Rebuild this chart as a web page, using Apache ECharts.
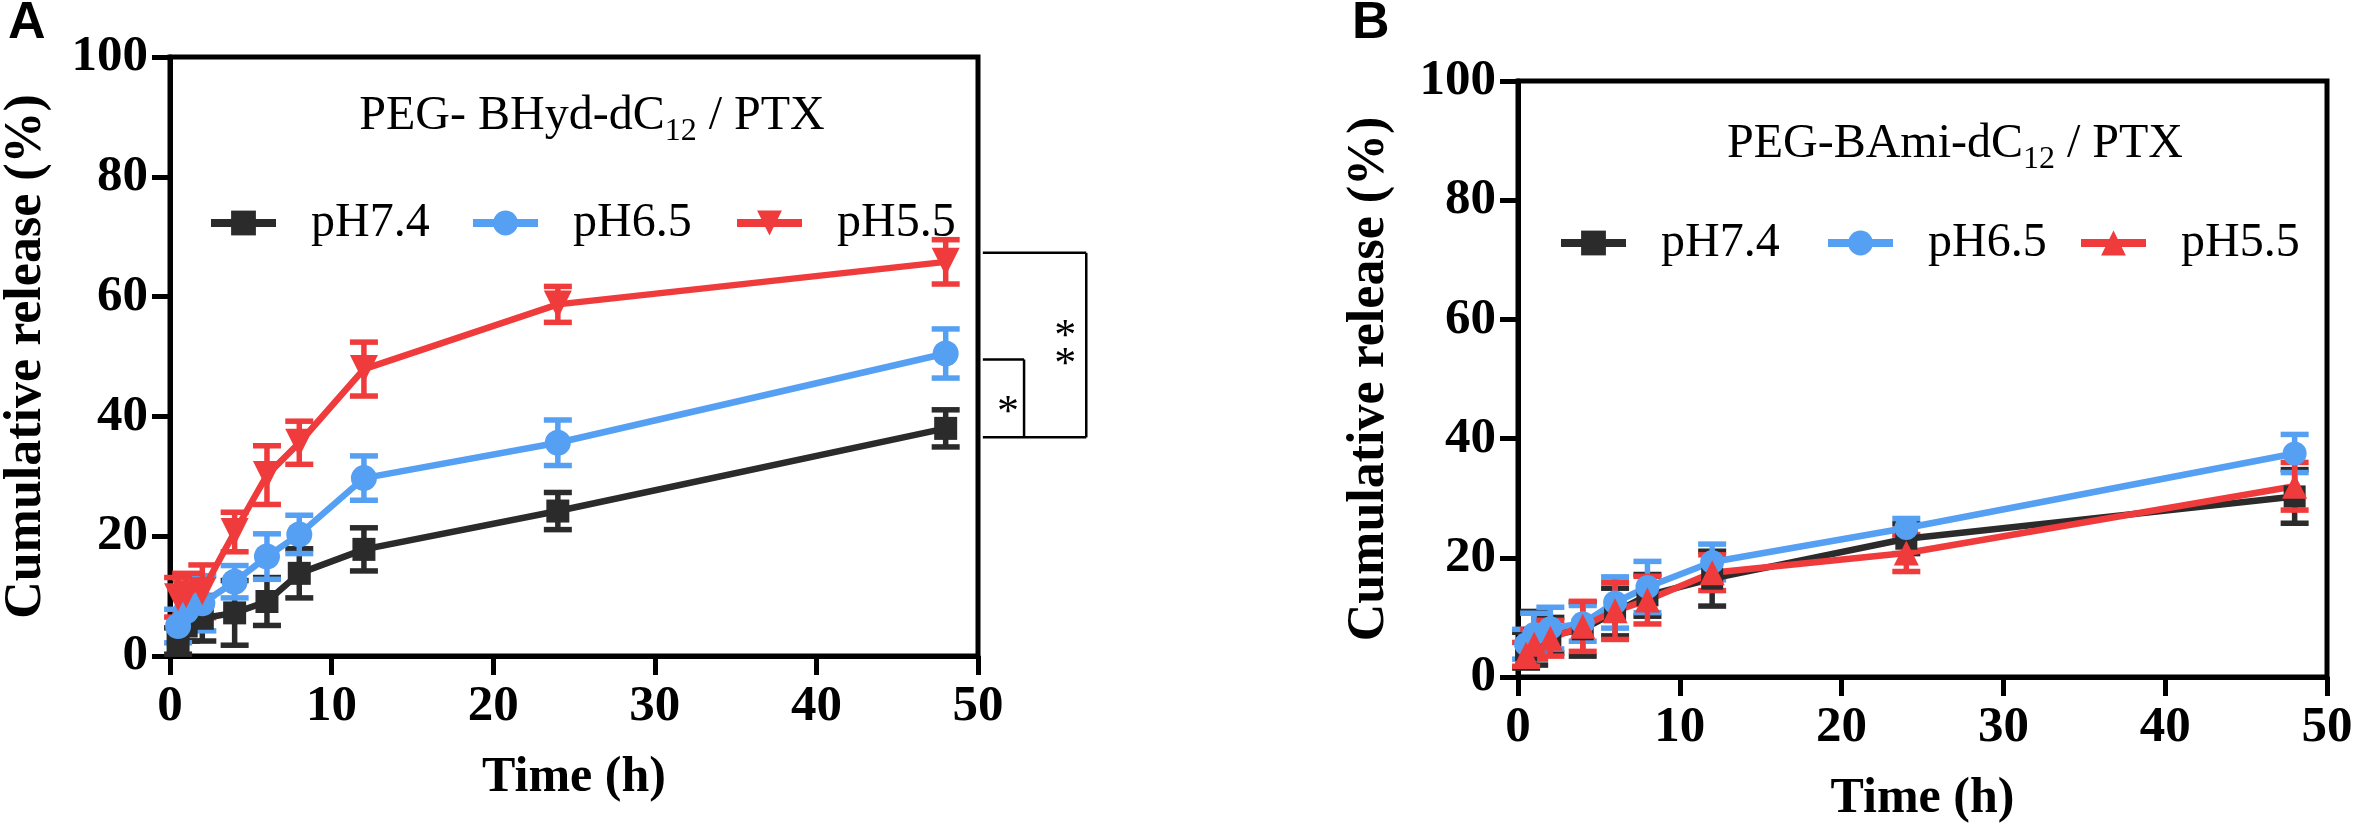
<!DOCTYPE html>
<html>
<head>
<meta charset="utf-8">
<script src="https://cdn.jsdelivr.net/npm/echarts@6/dist/echarts.min.js"></script>
<style>
html,body{margin:0;padding:0;background:#fff;}
#chart{width:2358px;height:829px;}
</style>
</head>
<body>
<div id="chart"></div>
<script>
// ---------- data ----------
const timeA = [0.5, 1, 2, 4, 6, 8, 12, 24, 48];
const a74  = [2.5, 5.0, 6.3, 7.2, 9.1, 13.8, 17.8, 24.2, 38.0];
const a74e = [2.2, 2.5, 3.8, 5.4, 4.0, 4.1, 3.6, 3.1, 3.1];
const a65  = [5.0, 7.5, 8.8, 12.4, 16.6, 20.3, 29.7, 35.6, 50.5];
const a65e = [2.8, 3.0, 4.6, 2.7, 3.8, 3.2, 3.7, 3.8, 4.1];
const a55  = [9.8, 10.3, 10.8, 20.7, 30.2, 35.6, 47.9, 58.7, 65.8];
const a55e = [3.3, 3.5, 4.4, 3.3, 4.9, 3.6, 4.5, 3.0, 3.7];

const timeB = [0.5, 1, 2, 4, 6, 8, 12, 24, 48];
const b74  = [4.5, 6.5, 7.0, 8.0, 10.9, 13.7, 16.5, 23.2, 30.3];
const b74e = [3.0, 4.5, 3.0, 4.5, 4.0, 3.5, 4.6, 2.5, 4.5];
const b65  = [5.5, 7.2, 8.2, 9.0, 12.5, 15.1, 19.3, 25.0, 37.5];
const b65e = [2.5, 3.5, 3.5, 3.0, 4.3, 4.3, 3.0, 1.6, 3.2];
const b55  = [3.8, 5.5, 6.5, 8.5, 11.1, 12.9, 17.5, 20.8, 32.0];
const b55e = [2.0, 2.5, 3.0, 4.2, 4.8, 4.0, 3.0, 3.1, 4.0];

const seriesNames = ['pH7.4', 'pH6.5', 'pH5.5'];
const xTicks = {min: 0, max: 50, interval: 10};
const yTicks = {min: 0, max: 100, interval: 20};

// significance bracket (panel A) in data units: hours beyond axis, % levels
const sigX = [50.3, 52.85, 56.7];     // start, inner vertical, outer vertical
const sigY = [67.3, 49.5, 36.5];      // outer top, inner top, common bottom
const starPos = [[51.86, 41.9], [55.4, 52.2]];

// ---------- style ----------
const serif = "'Liberation Serif','Times New Roman',serif";
const cBlack = '#2b2b2b', cBlue = '#55a0f2', cRed = '#ef3b3c';

function lineSeries(name, xs, ys, color, symbol, size, rot, g) {
  return {
    type: 'line', name: name, xAxisIndex: g, yAxisIndex: g,
    data: xs.map((x, i) => [x, ys[i]]),
    symbol: symbol, symbolSize: size, symbolRotate: rot,
    lineStyle: {color: color, width: 6.5},
    itemStyle: {color: color},
    showSymbol: true, animation: false, z: 3
  };
}
function errSeries(xs, ys, es, color, g, capW) {
  return {
    type: 'custom', name: 'err', xAxisIndex: g, yAxisIndex: g,
    data: xs.map((x, i) => [x, ys[i], es[i]]),
    encode: {x: 0, y: 1},
    animation: false, z: 3,
    renderItem: function (params, api) {
      const x = api.value(0), m = api.value(1), e = api.value(2);
      const t = api.coord([x, m + e]), b = api.coord([x, m - e]);
      const h = capW / 2;
      const st = {stroke: color, lineWidth: 5.5};
      return {type: 'group', children: [
        {type: 'line', shape: {x1: t[0], y1: t[1], x2: b[0], y2: b[1]}, style: st},
        {type: 'line', shape: {x1: t[0] - h, y1: t[1], x2: t[0] + h, y2: t[1]}, style: st},
        {type: 'line', shape: {x1: b[0] - h, y1: b[1], x2: b[0] + h, y2: b[1]}, style: st}
      ]};
    }
  };
}
function xAx(g, gap) {
  return {
    type: 'value', gridIndex: g, min: xTicks.min, max: xTicks.max, interval: xTicks.interval,
    axisLine: {show: true, onZero: false, lineStyle: {color: '#000', width: 5}},
    axisTick: {show: true, length: 19, lineStyle: {color: '#000', width: 5}},
    splitLine: {show: false},
    axisLabel: {fontFamily: serif, fontWeight: 'bold', fontSize: 51, color: '#000', margin: 25},
    name: 'Time (h)', nameLocation: 'middle', nameGap: gap,
    nameTextStyle: {fontFamily: serif, fontWeight: 'bold', fontSize: 50, color: '#000'}
  };
}
function yAx(g, gap) {
  return {
    type: 'value', gridIndex: g, min: yTicks.min, max: yTicks.max, interval: yTicks.interval,
    axisLine: {show: true, onZero: false, lineStyle: {color: '#000', width: 5}},
    axisTick: {show: true, length: 18, lineStyle: {color: '#000', width: 5}},
    splitLine: {show: false},
    axisLabel: {fontFamily: serif, fontWeight: 'bold', fontSize: 51, color: '#000', margin: 22},
    name: 'Cumulative release (%)', nameLocation: 'middle', nameGap: gap,
    nameTextStyle: {fontFamily: serif, fontWeight: 'bold', fontSize: 52, color: '#000'}
  };
}
function leg(name, left, top) {
  return {
    data: [name], left: left, top: top, padding: 0, orient: 'horizontal',
    itemWidth: 65, itemHeight: 31, selectedMode: false,
    lineStyle: {width: 8},
    textStyle: {fontFamily: serif, fontSize: 48, color: '#000', padding: [0, 0, 0, 30]}
  };
}
const bName = n => n + ' ';
const richTitle = {
  a: {fontFamily: serif, fontWeight: 'normal', fontSize: 48, lineHeight: 48, color: '#000'},
  s: {fontFamily: serif, fontWeight: 'normal', fontSize: 32, lineHeight: 32, padding: [32, 0, 0, 0], color: '#000'}
};

const option = {
  backgroundColor: '#fff',
  animation: false,
  title: [
    {text: 'A', left: 8, top: -2, padding: 0,
     textStyle: {fontFamily: "'Liberation Sans',Arial,sans-serif", fontWeight: 'bold', fontSize: 52, color: '#000'}},
    {text: 'B', left: 1352, top: -2, padding: 0,
     textStyle: {fontFamily: "'Liberation Sans',Arial,sans-serif", fontWeight: 'bold', fontSize: 52, color: '#000'}},
    {text: '{a|PEG- BHyd-dC}{s|12}{a| / PTX}', left: 592, top: 92, padding: 0, textAlign: 'center',
     textStyle: {fontWeight: 'normal', rich: richTitle}},
    {text: '{a|PEG-BAmi-dC}{s|12}{a| / PTX}', left: 1955, top: 120, padding: 0, textAlign: 'center',
     textStyle: {fontWeight: 'normal', rich: richTitle}}
  ],
  legend: [
    leg(seriesNames[0], 207, 199), leg(seriesNames[1], 469, 199), leg(seriesNames[2], 733, 199),
    leg(bName(seriesNames[0]), 1557, 219), leg(bName(seriesNames[1]), 1824, 219), leg(bName(seriesNames[2]), 2077, 219)
  ],
  grid: [
    {left: 170, right: 2358 - 978, top: 57, bottom: 829 - 656, show: true, borderColor: '#000', borderWidth: 5, backgroundColor: 'transparent'},
    {left: 1518, right: 2358 - 2327, top: 81, bottom: 829 - 681, show: true, borderColor: '#000', borderWidth: 5, backgroundColor: 'transparent'}
  ],
  xAxis: [xAx(0, 97), xAx(1, 97)],
  yAxis: [yAx(0, 117), yAx(1, 122)],
  series: [
    errSeries(timeA, a74, a74e, cBlack, 0, 28),
    lineSeries(seriesNames[0], timeA, a74, cBlack, 'rect', 23, 0, 0),
    errSeries(timeA, a65, a65e, cBlue, 0, 28),
    lineSeries(seriesNames[1], timeA, a65, cBlue, 'circle', 26, 0, 0),
    errSeries(timeA, a55, a55e, cRed, 0, 28),
    lineSeries(seriesNames[2], timeA, a55, cRed, 'triangle', 28, 180, 0),

    errSeries(timeB, b74, b74e, cBlack, 1, 28),
    lineSeries(bName(seriesNames[0]), timeB, b74, cBlack, 'rect', 22, 0, 1),
    errSeries(timeB, b65, b65e, cBlue, 1, 28),
    lineSeries(bName(seriesNames[1]), timeB, b65, cBlue, 'circle', 24, 0, 1),
    errSeries(timeB, b55, b55e, cRed, 1, 28),
    lineSeries(bName(seriesNames[2]), timeB, b55, cRed, 'triangle', 25, 0, 1)
  ]
};

const chart = echarts.init(document.getElementById('chart'), null, {renderer: 'canvas'});
chart.setOption(option);

// significance brackets for panel A
const px = (x, y) => chart.convertToPixel({gridIndex: 0}, [x, y]);
const st = {stroke: '#000', lineWidth: 2.5};
function seg(p, q) {
  return {type: 'line', shape: {x1: p[0], y1: p[1], x2: q[0], y2: q[1]}, style: st, silent: true};
}
const g = [
  seg(px(sigX[0], sigY[0]), px(sigX[2], sigY[0])),
  seg(px(sigX[2], sigY[0]), px(sigX[2], sigY[2])),
  seg(px(sigX[0], sigY[2]), px(sigX[2], sigY[2])),
  seg(px(sigX[0], sigY[1]), px(sigX[1], sigY[1])),
  seg(px(sigX[1], sigY[1]), px(sigX[1], sigY[2]))
];
const s1 = px(starPos[0][0], starPos[0][1]);
const s2 = px(starPos[1][0], starPos[1][1]);
g.push({type: 'text', x: s1[0], y: s1[1] + 8, silent: true,
  style: {text: '*', fontFamily: serif, fontSize: 44, fill: '#000', align: 'center', verticalAlign: 'middle'}});
g.push({type: 'text', x: s2[0], y: s2[1] + 8, silent: true,
  style: {text: '*\n*', fontFamily: serif, fontSize: 44, lineHeight: 28, fill: '#000', align: 'center', verticalAlign: 'middle'}});
chart.setOption({graphic: g});
</script>
</body>
</html>
